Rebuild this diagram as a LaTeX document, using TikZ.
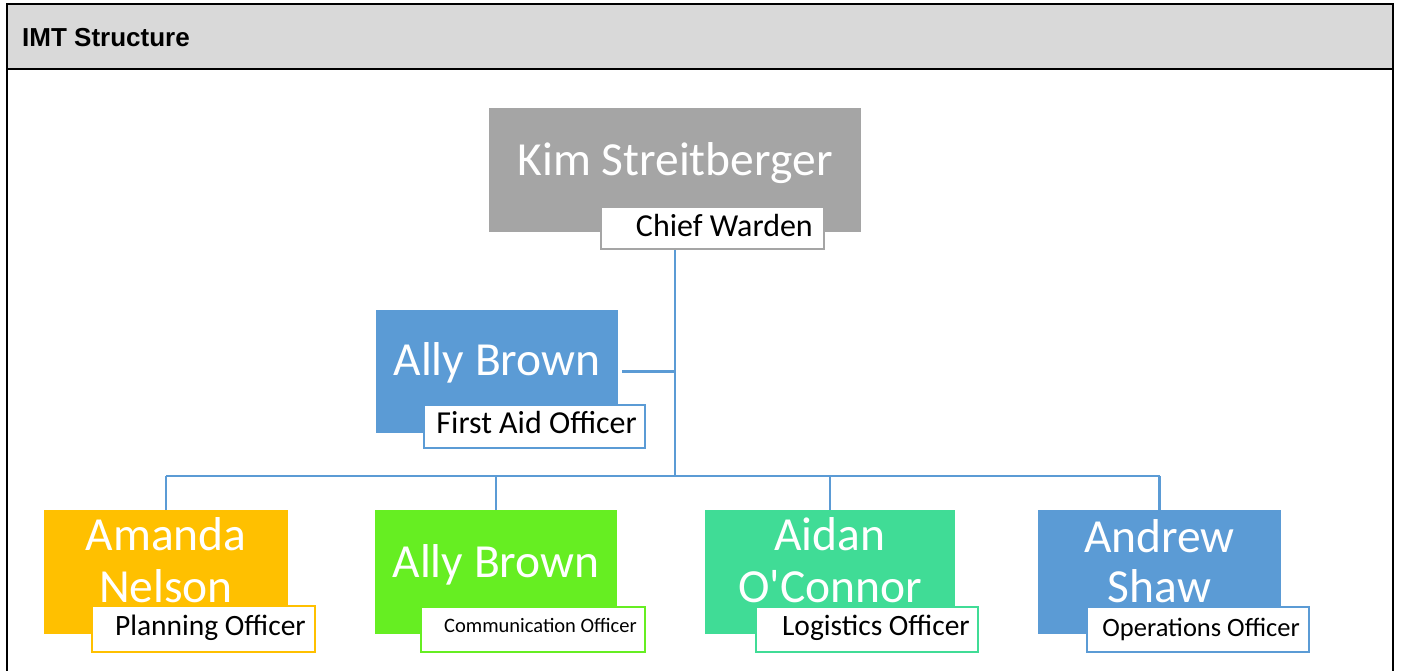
\documentclass[tikz,border=0pt]{standalone}
\usepackage{fontspec}
\setmainfont{Carlito}
\newfontfamily\arialf{Liberation Sans}
\definecolor{hdr}{HTML}{D9D9D9}
\definecolor{kimgray}{HTML}{A5A5A5}
\definecolor{blu}{HTML}{5B9BD5}
\definecolor{line}{HTML}{5B9BD5}
\definecolor{ora}{HTML}{FFC000}
\definecolor{grn}{HTML}{66EE22}
\definecolor{teal}{HTML}{40DC96}
\tikzset{
  namebox/.style={rectangle, inner sep=0pt, draw=none},
  nametext/.style={text=white, inner sep=0pt, anchor=base, font=\fontsize{47.5}{52}\selectfont},
  rolebox/.style={rectangle, fill=white, line width=2pt, inner sep=0pt},
  roletext/.style={text=black, inner sep=0pt, anchor=base east},
  conn/.style={draw=line, line width=2.5pt},
  frame/.style={draw=black, line width=2pt}
}
\begin{document}
\begin{tikzpicture}[x=1pt,y=-1pt]
\useasboundingbox (0,0) rectangle (1401,671);
% header and frame
\fill[hdr] (7,4) rectangle (1393,69);
\draw[frame] (7,671) -- (7,4) -- (1393,4) -- (1393,671);
\draw[frame] (7,69) -- (1393,69);
\node[anchor=base west, inner sep=0pt, font=\arialf\bfseries\fontsize{26}{30}\selectfont] (title) at (22,47) {IMT Structure};

% Kim
\node[namebox, fill=kimgray, minimum width=372pt, minimum height=124pt] (kim) at (675,170) {};
\node[nametext] (kimt) at (675,176) {Kim Streitberger};
\node[rolebox, draw=kimgray, minimum width=223pt, minimum height=42pt] (cw) at (712.5,228) {};
\node[roletext, font=\fontsize{32}{36}\selectfont] (cwt) at (813,237) {Chief Warden};

% Ally first aid
\node[namebox, fill=blu, minimum width=242pt, minimum height=123pt] (ally1) at (497,371.5) {};
\node[nametext] (ally1t) at (497,375) {Ally Brown};
\node[rolebox, draw=blu, minimum width=221pt, minimum height=43pt] (fa) at (534.5,426.5) {};
\node[roletext, font=\fontsize{32}{36}\selectfont] (fat) at (637,433) {First Aid Officer};

% bottom row
\node[namebox, fill=ora, minimum width=244pt, minimum height=124pt] (amanda) at (166,572) {};
\node[nametext] (amandat1) at (166,550) {Amanda};
\node[nametext] (amandat2) at (166,602) {Nelson};
\node[rolebox, draw=ora, minimum width=223pt, minimum height=46pt] (plan) at (203.5,629) {};
\node[roletext, font=\fontsize{29.5}{34}\selectfont] (plant) at (306,635) {Planning Officer};

\node[namebox, fill=grn, minimum width=242pt, minimum height=124pt] (ally2) at (496,572) {};
\node[nametext] (ally2t) at (496,577) {Ally Brown};
\node[rolebox, draw=grn, minimum width=224pt, minimum height=45pt] (comm) at (533,629.5) {};
\node[roletext, font=\fontsize{20.5}{24}\selectfont] (commt) at (637,632) {Communication Officer};

\node[namebox, fill=teal, minimum width=250pt, minimum height=124pt] (aidan) at (830,572) {};
\node[nametext] (aidant1) at (830,550) {Aidan};
\node[nametext] (aidant2) at (830,602) {O\textquotesingle Connor};
\node[rolebox, draw=teal, minimum width=222pt, minimum height=45pt] (log) at (867,629.5) {};
\node[roletext, font=\fontsize{29.5}{34}\selectfont] (logt) at (970,635) {Logistics Officer};

\node[namebox, fill=blu, minimum width=243pt, minimum height=124pt] (andrew) at (1159.5,572) {};
\node[nametext] (andrewt1) at (1159.5,552) {Andrew};
\node[nametext] (andrewt2) at (1159.5,602) {Shaw};
\node[rolebox, draw=blu, minimum width=222pt, minimum height=45pt] (ops) at (1197.5,629.5) {};
\node[roletext, font=\fontsize{26.5}{30}\selectfont] (opst) at (1300,636) {Operations Officer};

% connectors
\coordinate (bus) at (675,476);
\draw[conn] (kim.south |- cw.south) -- (bus);
\draw[conn] ([xshift=4pt]ally1.east) -- (kim.south |- ally1.east);
\draw[conn] (amanda.north |- bus) -- (andrew.north |- bus);
\draw[conn] (amanda.north |- bus) -- (amanda.north);
\draw[conn] (ally2.north |- bus) -- (ally2.north);
\draw[conn] (aidan.north |- bus) -- (aidan.north);
\draw[conn] (andrew.north |- bus) -- (andrew.north);
\end{tikzpicture}
\end{document}
